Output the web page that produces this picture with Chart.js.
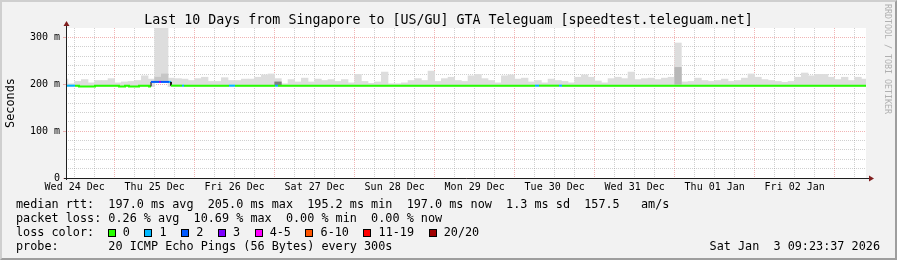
<!DOCTYPE html>
<html><head><meta charset="utf-8">
<script src="https://cdn.jsdelivr.net/npm/chart.js@4/dist/chart.umd.min.js"></script>
<style>
html,body{margin:0;padding:0;}
body{width:897px;height:260px;background:#f2f2f2;position:relative;overflow:hidden;font-family:'DejaVu Sans Mono',monospace;color:#000;}
canvas{position:absolute;left:0;top:0;}
#frame{position:absolute;left:0;top:0;width:893px;height:256px;border:2px solid;border-color:#cfcfcf #9e9e9e #9e9e9e #cfcfcf;pointer-events:none;}
#title{position:absolute;left:0;top:11.5px;width:897px;text-align:center;font-size:13.3px;line-height:16px;white-space:pre;}
.lg{position:absolute;left:16px;font-size:11.8px;line-height:14px;white-space:pre;}
#date{left:auto;right:17px;}
.sq{display:inline-block;width:6px;height:6px;border:1px solid #000;vertical-align:-1px;margin-left:14.5px;margin-right:7.1px;}
.sq.first{margin-left:13.6px;}
#wm{position:absolute;left:882.5px;top:4px;writing-mode:vertical-rl;font-size:8.3px;line-height:9px;color:#b0b0b0;white-space:pre;}
</style>
</head><body>
<canvas id="c" width="897" height="260"></canvas>
<div id="title">Last 10 Days from Singapore to [US/GU] GTA Teleguam [speedtest.teleguam.net]</div>
<div class="lg" style="top:197px">median rtt:  197.0 ms avg  205.0 ms max  195.2 ms min  197.0 ms now  1.3 ms sd  157.5   am/s</div>
<div class="lg" style="top:211px">packet loss: 0.26 % avg  10.69 % max  0.00 % min  0.00 % now</div>
<div class="lg" id="losslg" style="top:225px">loss color:</div>
<div class="lg" style="top:239px">probe:       20 ICMP Echo Pings (56 Bytes) every 300s</div>
<div class="lg" id="date" style="top:239px">Sat Jan  3 09:23:37 2026</div>
<div id="wm">RRDTOOL / TOBI OETIKER</div>
<div id="frame"></div>
<script>
// ---- data (x in hours since Wed 24 Dec 00:00) ----
const dayLabels = ['Wed 24 Dec','Thu 25 Dec','Fri 26 Dec','Sat 27 Dec','Sun 28 Dec','Mon 29 Dec','Tue 30 Dec','Wed 31 Dec','Thu 01 Jan','Fri 02 Jan'];
const xStartHour = 9.394;   // Wed 24 Dec 09:23:37
const xEndHour = 249.394;   // Sat 03 Jan 09:23:37
const yTickValues = [0, 100, 200, 300];
const yTickLabels = ['0', '100 m', '200 m', '300 m'];
const yMax = 320;
const yMinorStep = 20;
const xMinorStepHours = 6;

const lossColors = ['#26ff00','#00b8ff','#0059ff','#7e00ff','#ff00ff','#ff5500','#ff0000','#a00000'];
const lossLabels = ['0','1','2','3','4-5','6-10','11-19','20/20'];

// smoke: 2-hour bins, first bin centred at 09:00 Wed 24 Dec
const smokeFirstHour = 9;
const smokeBinHours = 2;
const smokeTop = [211,201,206,210,203,208,208,212,203,205,206,208,218,211,330,330,213,212,211,208,
  212,215,206,206,214,208,208,211,211,215,220,222,212,201,210,205,213,205,211,208,
  210,206,210,203,221,206,202,205,226,201,201,203,208,212,208,228,206,212,215,208,
  206,218,221,212,208,203,218,220,211,213,205,208,203,211,208,206,203,215,220,215,
  207,203,212,215,212,226,210,212,213,210,213,215,288,205,206,213,208,206,208,211,
  206,208,213,222,215,210,208,206,204,206,215,224,218,221,221,215,210,215,208,215,211];
const smokeLow = [195,195,195,195,195,195,195,195,195,195,195,195,195,195,204,204,195,195,195,195,
  195,195,195,195,195,195,195,195,195,195,195,195,195,195,195,195,195,195,195,195,
  195,195,195,195,195,195,195,195,195,195,195,195,195,195,195,195,195,195,195,195,
  195,195,195,195,195,195,195,195,195,195,195,195,195,195,195,195,195,195,195,195,
  195,195,195,195,195,195,195,195,195,195,195,195,195,195,195,195,195,195,195,195,
  195,195,195,195,195,195,195,195,195,195,195,195,195,195,195,195,195,195,195,195,195];
// darker inner smoke
const innerHours = [37, 39, 73, 193];
const innerLow = [205, 205, 199, 200];
const innerHigh = [215, 222, 205, 236];
const innerColor = ['#c6c6c6','#c6c6c6','#808080','#b8b8b8'];

// median rtt: segment start hours, value (ms), loss class
const medStart = [9.394,12.1,13.3,18.1,25.3,27.1,28.3,31.3,34.3,34.9,37.3,37.9,40.3,40.9,44.2,44.8,58.3,60.1,72.1,73.0,150.1,151.3,157.3,158.2];
const medValue = [197,197,195.2,197,195.4,197,195.2,197,195.4,205,205,205,205,197,197,197,197,197,197,197,197,197,197,197];
const medLoss  = [1,0,0,0,0,0,0,0,0,2,3,2,1,0,1,0,1,0,1,0,1,0,1,0];

// ---- build datasets ----
const smokePoints = smokeTop.map((v, i) => ({x: smokeFirstHour + i * smokeBinHours, y: [smokeLow[i], v]}));
const innerPoints = innerHours.map((h, i) => ({x: h, y: [innerLow[i], innerHigh[i]]}));
const medPoints = [];
medStart.forEach((h, i) => {
  const end = i + 1 < medStart.length ? medStart[i + 1] : xEndHour;
  medPoints.push({x: h, y: medValue[i]});
  medPoints.push({x: end, y: medValue[i]});
});

// legend squares
const lg = document.getElementById('losslg');
lossLabels.forEach((t, i) => {
  const s = document.createElement('span');
  s.className = 'sq' + (i === 0 ? ' first' : '');
  s.style.background = lossColors[i];
  lg.appendChild(s);
  lg.appendChild(document.createTextNode(t));
});

const MONO = "'DejaVu Sans Mono', monospace";
const minorGrid = 'rgba(143,143,143,0.42)';
const majorGrid = 'rgba(222,79,79,0.42)';
const isJump = i => i % 2 === 1 && Math.abs(medPoints[i].y - medPoints[i + 1].y) > 3;

const rrdPlugin = {
  id: 'rrd',
  beforeDraw(chart) {
    const {ctx, chartArea: a} = chart;
    ctx.save();
    ctx.fillStyle = '#ffffff';
    ctx.fillRect(a.left, a.top, a.right - a.left, a.bottom - a.top);
    ctx.restore();
  },
  afterDraw(chart) {
    const {ctx, chartArea: a} = chart;
    ctx.save();
    ctx.strokeStyle = '#1f1f1f';
    ctx.lineWidth = 1;
    ctx.beginPath();
    ctx.moveTo(a.left + 0.5, a.bottom + 2);
    ctx.lineTo(a.left + 0.5, a.top - 2);
    ctx.moveTo(a.left - 2, a.bottom + 0.5);
    ctx.lineTo(a.right + 3, a.bottom + 0.5);
    ctx.stroke();
    ctx.fillStyle = '#801f1f';
    ctx.beginPath();
    ctx.moveTo(a.left + 0.5, a.top - 7);
    ctx.lineTo(a.left + 3.5, a.top - 2);
    ctx.lineTo(a.left - 2.5, a.top - 2);
    ctx.closePath();
    ctx.fill();
    ctx.beginPath();
    ctx.moveTo(a.right + 8, a.bottom + 0.5);
    ctx.lineTo(a.right + 3, a.bottom + 3.5);
    ctx.lineTo(a.right + 3, a.bottom - 2.5);
    ctx.closePath();
    ctx.fill();
    ctx.restore();
  }
};

new Chart(document.getElementById('c'), {
  type: 'bar',
  data: {
    datasets: [
      {
        type: 'line', label: 'median rtt', data: medPoints, order: 0, clip: 0,
        borderWidth: 2, pointRadius: 0, tension: 0, borderCapStyle: 'butt',
        borderColor: lossColors[0],
        segment: {
          borderColor: c => {
            const i = c.p0DataIndex;
            if (i % 2 === 0) return lossColors[medLoss[i / 2]];
            return isJump(i) ? '#000000' : lossColors[medLoss[(i - 1) / 2]];
          },
          borderWidth: c => isJump(c.p0DataIndex) ? 1 : 2
        }
      },
      {
        label: 'smoke inner', data: innerPoints, order: 1, clip: 0, grouped: false,
        backgroundColor: innerColor, borderWidth: 0, barPercentage: 1, categoryPercentage: 1
      },
      {
        label: 'smoke', data: smokePoints, order: 2, clip: 0, grouped: false,
        backgroundColor: '#dddddd', borderWidth: 0, barPercentage: 1, categoryPercentage: 1
      }
    ]
  },
  options: {
    responsive: false, animation: false, events: [],
    layout: {padding: {left: 0, right: 31, top: 28, bottom: 0}},
    plugins: {legend: {display: false}, tooltip: {enabled: false}, title: {display: false}},
    scales: {
      x: {
        type: 'linear', min: xStartHour, max: xEndHour, offset: false,
        afterFit: s => { s.height = 82; },
        afterBuildTicks: s => {
          const t = [];
          for (let h = 0; h <= (dayLabels.length + 1) * 24; h += xMinorStepHours) {
            if (h >= xStartHour && h <= xEndHour) t.push({value: h});
          }
          s.ticks = t;
        },
        grid: {
          drawTicks: false, offset: false, lineWidth: 1,
          color: c => (c.tick && c.tick.value % 24 === 0) ? majorGrid : minorGrid
        },
        border: {display: false, dash: [1, 1]},
        ticks: {
          autoSkip: false, maxRotation: 0, minRotation: 0, padding: 3,
          color: '#000', font: {family: MONO, size: 10},
          callback: v => (v % 24 === 12 ? dayLabels[(v - 12) / 24] : '')
        }
      },
      y: {
        min: 0, max: yMax,
        afterFit: s => { s.width = 66; },
        afterBuildTicks: s => {
          const t = [];
          for (let v = 0; v < yMax; v += yMinorStep) t.push({value: v});
          s.ticks = t;
        },
        grid: {
          drawTicks: true, tickLength: 3, lineWidth: 1,
          color: c => (c.tick && c.tick.value % 100 === 0) ? majorGrid : minorGrid,
          tickColor: c => (c.tick && yTickValues.includes(c.tick.value)) ? majorGrid : 'rgba(0,0,0,0)'
        },
        border: {display: false, dash: [1, 1]},
        ticks: {
          autoSkip: false, padding: 3, color: '#000', font: {family: MONO, size: 10},
          callback: v => { const i = yTickValues.indexOf(v); return i >= 0 ? yTickLabels[i] : ''; }
        },
        title: {
          display: true, text: 'Seconds', color: '#000',
          font: {family: MONO, size: 11.85}, padding: {top: 3.5, bottom: 0}
        }
      }
    }
  },
  plugins: [rrdPlugin]
});
</script>
</body></html>
